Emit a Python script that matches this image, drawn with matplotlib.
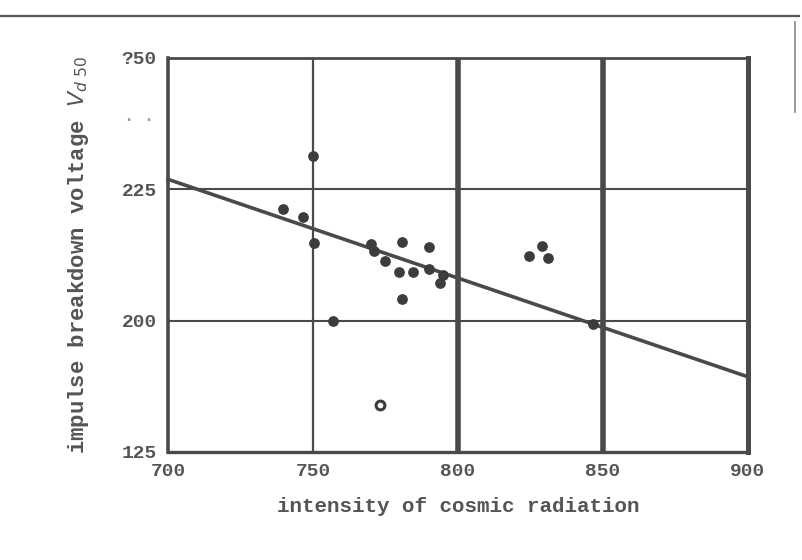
import matplotlib.pyplot as plt
from matplotlib.lines import Line2D

# measured points (intensity, breakdown voltage)
intensity = [750.1, 739.8, 746.4, 750.4, 769.9, 771.0, 780.6, 790.1, 774.8,
             779.7, 784.6, 790.1, 794.7, 793.8, 780.8, 824.5, 829.1, 831.1,
             757.0, 846.6]
voltage = [231.3, 221.3, 219.8, 214.7, 214.5, 213.2, 215.0, 214.1, 211.3,
           209.3, 209.3, 209.8, 208.6, 207.1, 204.2, 212.3, 214.2, 212.0,
           200.0, 199.3]

# open circle point
open_x = [773.1]
open_y = [184.0]

# regression line end points
fit_x = [700, 900]
fit_y = [226.9, 189.3]

x_ticks = [700, 750, 800, 850, 900]
x_labels = ["700", "750", "800", "850", "900"]
y_ticks = [175, 200, 225, 250]
y_labels = ["125", "200", "225", "?50"]

ink = "#4a4a4a"
text_ink = "#555555"
font = "Liberation Mono"

fig = plt.figure(figsize=(8.03, 5.60), dpi=100)
ax = fig.add_axes([0.2092, 0.1929, 0.7223, 0.7036])

ax.set_xlim(700, 900)
ax.set_ylim(175, 250)

# grid lines
ax.axvline(750, color=ink, lw=1.6, zorder=1)
ax.axvline(800, color=ink, lw=4.0, zorder=1)
ax.axvline(850, color=ink, lw=4.0, zorder=1)
ax.axhline(200, color=ink, lw=1.5, zorder=1)
ax.axhline(225, color=ink, lw=1.5, zorder=1)

ax.plot(fit_x, fit_y, color=ink, lw=2.6, zorder=2, clip_on=False)
ax.scatter(intensity, voltage, s=45, color="#3c3c3c", zorder=3)
ax.scatter(open_x, open_y, s=40, facecolor="white", edgecolor="#3c3c3c",
           lw=2.2, zorder=3)

for side, w in [("left", 2.6), ("bottom", 2.4), ("top", 2.0), ("right", 3.6)]:
    ax.spines[side].set_linewidth(w)
    ax.spines[side].set_color(ink)

ax.set_xticks(x_ticks)
ax.set_xticklabels(x_labels)
ax.set_yticks(y_ticks)
ax.set_yticklabels(y_labels)
ax.tick_params(length=0, pad=8, colors=text_ink, labelsize=14)
for lab in ax.get_xticklabels() + ax.get_yticklabels():
    lab.set_fontfamily(font)
    lab.set_fontweight("bold")

ax.set_xlabel("intensity of cosmic radiation", fontsize=15, family=font,
              color=text_ink, weight="bold", labelpad=12)
ax.set_ylabel("impulse breakdown voltage $V_{d\\ 50}$", fontsize=16,
              family=font, color=text_ink, weight="bold", labelpad=22)

# faint scan residue label
ax.text(-0.075, 0.84, ". .", transform=ax.transAxes, color="#999999",
        fontsize=12, family=font, weight="bold")

# scanned page border
fig.add_artist(Line2D([0.0, 0.995], [0.972, 0.972], color="#555555", lw=1.6))
fig.add_artist(Line2D([0.99, 0.99], [0.80, 0.96], color="#888888", lw=1.2))

fig.savefig("out.png", dpi=100)
